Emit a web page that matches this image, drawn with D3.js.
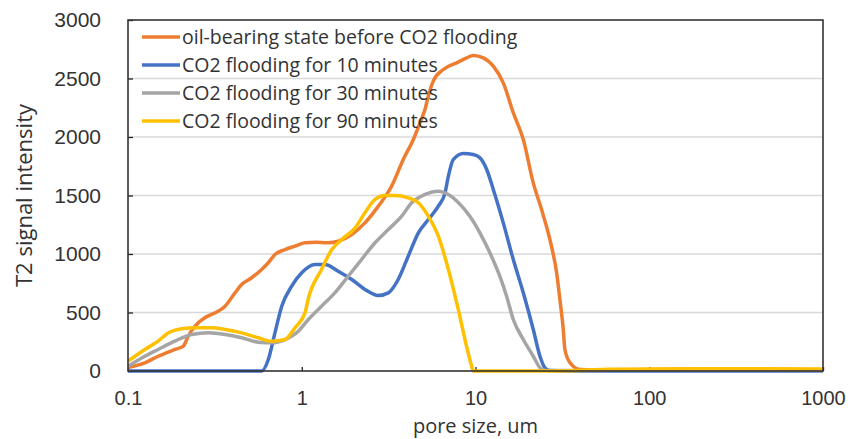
<!DOCTYPE html>
<html>
<head>
<meta charset="utf-8">
<script src="https://cdn.jsdelivr.net/npm/d3@7"></script>
<style>
  body { margin: 0; background: #fff; }
  svg { display: block; font-family: "Open Sans", sans-serif; }
</style>
</head>
<body>
<svg id="chart" width="850" height="439"></svg>
<script>
// series names (legend order = draw order)
const seriesNames = [
  "oil-bearing state before CO2 flooding",
  "CO2 flooding for 10 minutes",
  "CO2 flooding for 30 minutes",
  "CO2 flooding for 90 minutes"
];

// pore size (um) and T2 signal intensity
const poreOil = [0.1, 0.125, 0.149, 0.186, 0.208, 0.222, 0.243, 0.277, 0.317, 0.362, 0.413, 0.451, 0.515, 0.588, 0.642, 0.701, 0.801, 0.915, 1.044, 1.2, 1.42, 1.62, 1.94, 2.31, 2.76, 3.29, 3.84, 4.39, 4.79, 5.12, 5.35, 5.72, 6.53, 7.79, 8.9, 9.71, 11.09, 12.66, 14.45, 16.5, 18.84, 21.5, 24.0, 26.8, 29.3, 30.6, 32.0, 32.7, 35.0, 39.9, 60, 100, 200, 500, 1000];
const signalOil = [30, 70, 126, 184, 212, 297, 383, 455, 497, 554, 668, 739, 797, 868, 925, 996, 1038, 1067, 1096, 1100, 1096, 1109, 1167, 1266, 1409, 1580, 1808, 1979, 2121, 2235, 2349, 2480, 2577, 2634, 2677, 2697, 2677, 2605, 2463, 2207, 1979, 1608, 1380, 1124, 839, 611, 355, 184, 70, 13, 8, 12, 15, 12, 10];

const pore10 = [0.1, 0.3, 0.588, 0.642, 0.701, 0.767, 0.875, 1.0, 1.19, 1.36, 1.62, 1.94, 2.31, 2.76, 3.15, 3.59, 4.1, 4.69, 5.35, 6.11, 6.68, 6.98, 7.46, 8.51, 9.71, 10.6, 11.6, 12.66, 14.45, 16.5, 18.84, 21.5, 23.5, 25.1, 26.8, 40, 1000];
const signal10 = [0, 0, 0, 98, 326, 554, 725, 839, 910, 910, 853, 782, 697, 645, 668, 782, 981, 1181, 1295, 1409, 1523, 1665, 1808, 1859, 1850, 1822, 1722, 1551, 1266, 953, 668, 355, 126, 27, 5, 0, 0];

const pore30 = [0.1, 0.125, 0.149, 0.186, 0.233, 0.29, 0.362, 0.451, 0.562, 0.671, 0.801, 0.956, 1.091, 1.3, 1.55, 1.85, 2.21, 2.64, 3.15, 3.76, 4.29, 5.12, 6.11, 6.98, 8.33, 9.3, 10.6, 12.1, 13.8, 15.1, 16.5, 18.84, 21.5, 23.5, 25.1, 40, 100, 1000];
const signal30 = [41, 126, 184, 255, 312, 326, 312, 284, 246, 241, 269, 340, 440, 554, 668, 810, 953, 1096, 1209, 1323, 1438, 1509, 1537, 1509, 1409, 1320, 1181, 1010, 810, 639, 440, 269, 126, 27, 5, 3, 8, 5];

const pore90 = [0.1, 0.125, 0.149, 0.171, 0.204, 0.243, 0.303, 0.362, 0.451, 0.562, 0.671, 0.801, 0.915, 1.044, 1.091, 1.3, 1.49, 1.7, 2.03, 2.31, 2.64, 3.01, 3.44, 4.1, 4.69, 5.35, 6.11, 6.98, 7.96, 8.7, 9.51, 9.71, 30, 60, 200, 1000];
const signal90 = [84, 184, 255, 326, 361, 369, 369, 355, 326, 284, 255, 269, 370, 497, 620, 868, 1038, 1124, 1224, 1352, 1466, 1500, 1500, 1480, 1438, 1323, 1152, 868, 526, 269, 41, 0, 0, 15, 20, 18];

const xTicks = [0.1, 1, 10, 100, 1000];
const yTicks = [0, 500, 1000, 1500, 2000, 2500, 3000];
const colors = ["#ED7D31", "#4472C4", "#A5A5A5", "#FFC000"];

const series = [
  [poreOil, signalOil],
  [pore10, signal10],
  [pore30, signal30],
  [pore90, signal90]
].map(([xs, ys], i) => ({
  name: seriesNames[i],
  color: colors[i],
  values: xs.map((x, j) => ({ x, y: ys[j] }))
}));

const svg = d3.select("#chart");
const margin = { top: 20, right: 27, bottom: 68, left: 128 };
const width = 850 - margin.left - margin.right;
const height = 439 - margin.top - margin.bottom;

const x = d3.scaleLog().domain([0.1, 1000]).range([0, width]);
const y = d3.scaleLinear().domain([0, 3000]).range([height, 0]);

const g = svg.append("g").attr("transform", `translate(${margin.left},${margin.top})`);

// gridlines
g.selectAll("line.grid")
  .data(yTicks.filter((d) => d > 0 && d < 3000))
  .join("line")
  .attr("class", "grid")
  .attr("x1", 0)
  .attr("x2", width)
  .attr("y1", (d) => y(d))
  .attr("y2", (d) => y(d))
  .attr("stroke", "#d9d9d9")
  .attr("stroke-width", 1.3);

// y axis labels + inner ticks
const yAxis = g.append("g")
  .call(d3.axisLeft(y).tickValues(yTicks).tickFormat(d3.format("d")).tickSize(-5).tickPadding(27));
yAxis.select(".domain").remove();
yAxis.selectAll(".tick line").attr("stroke", "#222").attr("stroke-width", 1.3);
yAxis.selectAll(".tick text").attr("fill", "#333").style("font-size", "21px");

// x axis
const xAxis = g.append("g")
  .attr("transform", `translate(0,${height})`)
  .call(d3.axisBottom(x).tickValues(xTicks).tickFormat(d3.format("~g")).tickSize(-4).tickPadding(20));
xAxis.select(".domain").remove();
xAxis.selectAll(".tick line").attr("stroke", "#222").attr("stroke-width", 1.3);
xAxis.selectAll(".tick text").attr("fill", "#333").style("font-size", "20px");

// lines
const line = d3.line()
  .x((d) => x(d.x))
  .y((d) => y(d.y))
  .curve(d3.curveMonotoneX);

g.selectAll("path.series")
  .data(series)
  .join("path")
  .attr("class", "series")
  .attr("fill", "none")
  .attr("stroke", (d) => d.color)
  .attr("stroke-width", 3.5)
  .attr("stroke-linejoin", "round")
  .attr("d", (d) => line(d.values));

// plot frame
g.append("rect")
  .attr("width", width)
  .attr("height", height)
  .attr("fill", "none")
  .attr("stroke", "#333")
  .attr("stroke-width", 1.6);

// legend
const legend = g.append("g").attr("transform", "translate(14,17)");
const rows = legend.selectAll("g")
  .data(series)
  .join("g")
  .attr("transform", (d, i) => `translate(0,${i * 28})`);
rows.append("line")
  .attr("x1", 0).attr("x2", 38)
  .attr("stroke", (d) => d.color)
  .attr("stroke-width", 3.5);
rows.append("text")
  .attr("x", 40)
  .attr("dy", "0.35em")
  .attr("fill", "#333")
  .style("font-size", "19.5px")
  .text((d) => d.name);

// axis titles
svg.append("text")
  .attr("x", margin.left + x(10))
  .attr("y", 433)
  .attr("text-anchor", "middle")
  .attr("fill", "#333")
  .style("font-size", "20px")
  .text("pore size, um");

svg.append("text")
  .attr("transform", `translate(32,${margin.top + height / 2}) rotate(-90)`)
  .attr("text-anchor", "middle")
  .attr("fill", "#333")
  .style("font-size", "22px")
  .text("T2 signal intensity");
</script>
</body>
</html>
